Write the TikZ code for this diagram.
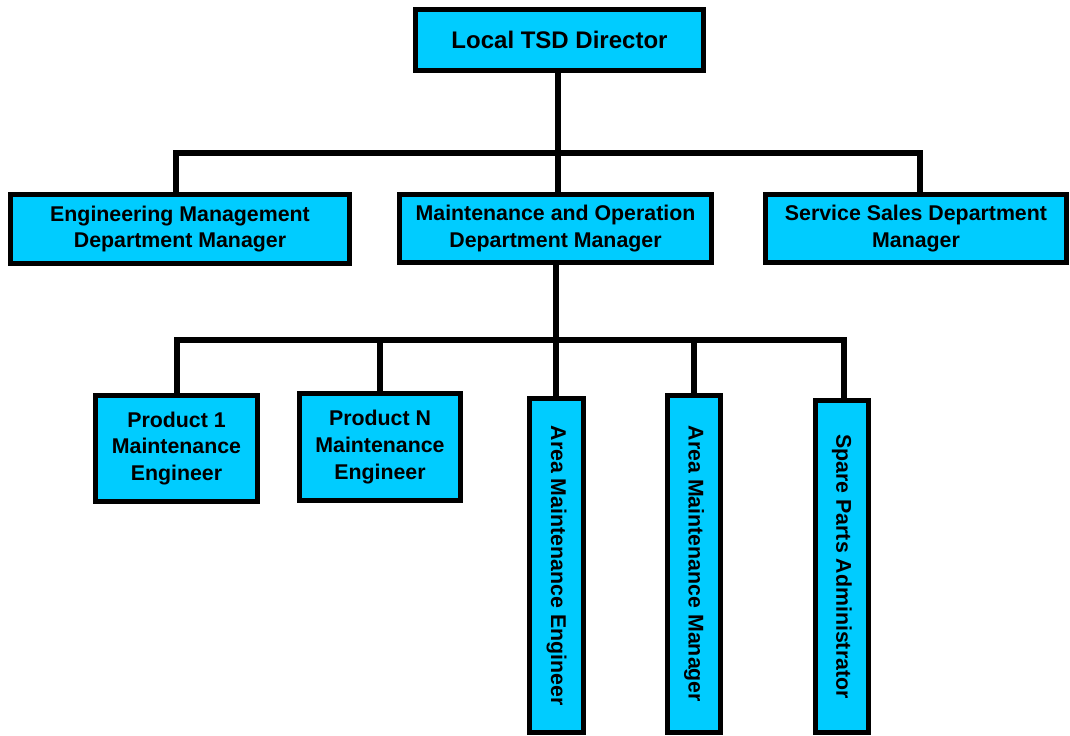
\documentclass[tikz,border=0pt]{standalone}
\usepackage{fontspec}
\setmainfont{Liberation Sans}
\usepackage{graphicx}
\definecolor{boxcyan}{HTML}{00CCFF}
\begin{document}
\begin{tikzpicture}[x=0.75pt,y=-0.75pt,
  orgbox/.style={draw=black, fill=boxcyan, line width=4.3pt, inner sep=0pt, outer sep=0pt,
     align=center, font=\bfseries\fontsize{16}{20}\selectfont},
  conn/.style={draw=black, line width=4.3pt, line join=miter}]
\useasboundingbox (0,0) rectangle (1070,735);
\coordinate (t1) at (558,72);
\coordinate (j1) at (558,153);
\coordinate (bl) at (176,153);
\coordinate (br) at (920,153);
\coordinate (m1) at (556,265);
\coordinate (j2) at (556,340);
\coordinate (cl) at (177,340);
\coordinate (cn) at (380,340);
\coordinate (cm) at (694,340);
\coordinate (cr) at (844,340);
\node[orgbox, minimum width=216pt, minimum height=45.75pt, font=\bfseries\fontsize{18}{20}\selectfont] (top) at (559.5,40) {Local TSD Director};
\node[orgbox, minimum width=254.25pt, minimum height=51.75pt] (eng) at (180,229) {Engineering Management\\Department Manager};
\node[orgbox, minimum width=234pt, minimum height=51pt] (mo) at (555.5,228.5) {Maintenance and Operation\\Department Manager};
\node[orgbox, minimum width=225.75pt, minimum height=51pt] (ss) at (916,228.5) {Service Sales Department\\Manager};
\node[orgbox, minimum width=121.5pt, minimum height=79.5pt] (p1) at (176.5,448.5) {Product 1\\Maintenance\\Engineer};
\node[orgbox, minimum width=120.75pt, minimum height=80.25pt] (pn) at (380,447) {Product N\\Maintenance\\Engineer};
\node[orgbox, minimum width=40.5pt, minimum height=250.5pt] (ae) at (556.5,565.5) {\rotatebox{-90}{Area Maintenance Engineer}};
\node[orgbox, minimum width=39.75pt, minimum height=252.75pt] (am) at (694,564) {\rotatebox{-90}{Area Maintenance Manager}};
\node[orgbox, minimum width=39.75pt, minimum height=249pt] (sp) at (842,566.5) {\rotatebox{-90}{Spare Parts Administrator}};
\draw[conn] (t1 |- top.south) -- (j1) -- (j1 |- mo.north);
\draw[conn] (bl |- eng.north) -- (bl) -- (br) -- (br |- ss.north);
\draw[conn] (m1 |- mo.south) -- (j2) -- (j2 |- ae.north);
\draw[conn] (cl |- p1.north) -- (cl) -- (cr) -- (cr |- sp.north);
\draw[conn] (cn) -- (cn |- pn.north);
\draw[conn] (cm) -- (cm |- am.north);
\end{tikzpicture}
\end{document}
